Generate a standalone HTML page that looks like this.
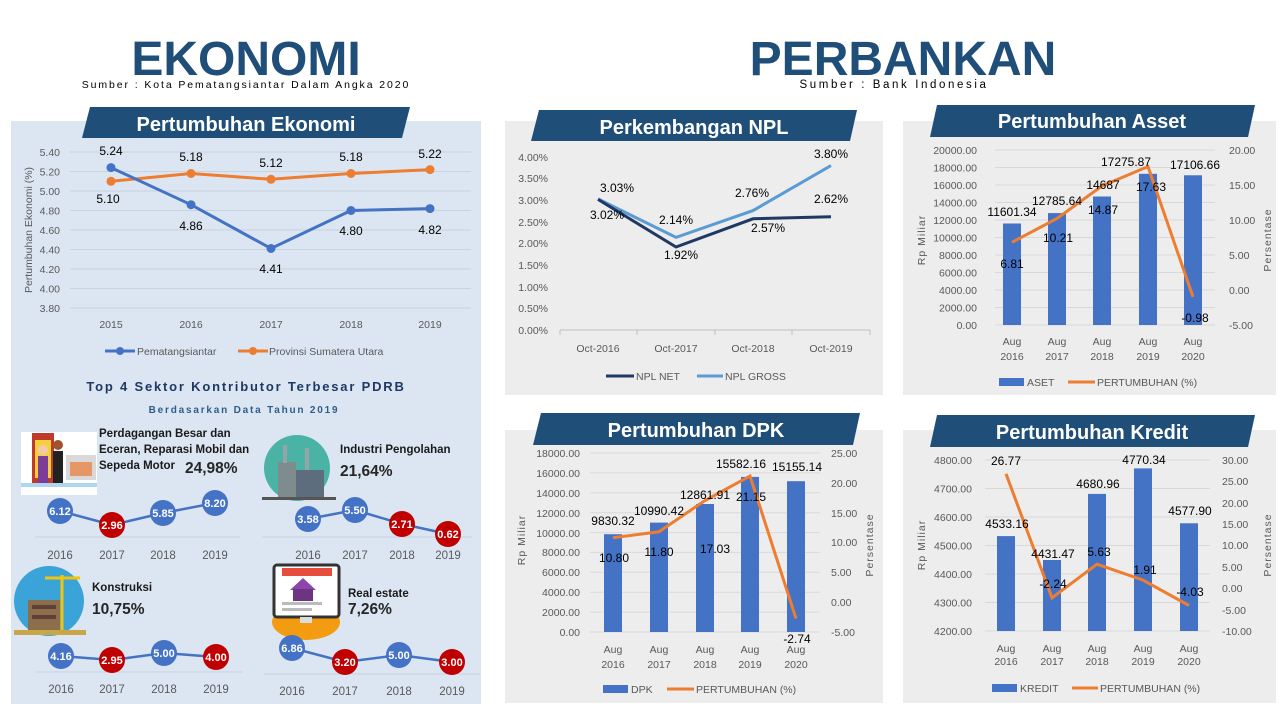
<!DOCTYPE html>
<html><head><meta charset="utf-8"><style>
html,body{margin:0;padding:0;background:#fff;}
svg{display:block;font-family:"Liberation Sans Narrow","Liberation Sans",sans-serif;}
.t{font-size:10.5px;fill:#595959}
.d{font-size:12px;fill:#000}
.h{font-family:"Liberation Sans",sans-serif;font-weight:bold;fill:#fff;font-size:20px}
.c{font-family:"Liberation Sans",sans-serif;font-weight:bold;fill:#fff;font-size:11px}
.y{font-size:11.5px;fill:#595959}
</style></head><body>
<svg width="1280" height="720" viewBox="0 0 1280 720" xmlns="http://www.w3.org/2000/svg">
<!-- Headers -->
<text x="246" y="75" text-anchor="middle" font-family="Liberation Sans" font-weight="bold" font-size="48" fill="#1f4e79">EKONOMI</text>
<text x="246" y="88" text-anchor="middle" font-family="Liberation Sans" font-size="10.5" letter-spacing="1.9" fill="#000">Sumber : Kota Pematangsiantar Dalam Angka 2020</text>
<text x="903" y="75" text-anchor="middle" font-family="Liberation Sans" font-weight="bold" font-size="48" fill="#1f4e79">PERBANKAN</text>
<text x="894" y="88" text-anchor="middle" font-family="Liberation Sans" font-size="11.5" letter-spacing="2.6" fill="#000">Sumber : Bank Indonesia</text>

<!-- Panels -->
<rect x="11" y="121" width="470" height="583" fill="#dce6f2"/>
<rect x="505" y="121" width="378" height="274" fill="#ededed"/>
<rect x="903" y="121" width="373" height="274" fill="#ededed"/>
<rect x="505" y="430" width="378" height="273" fill="#ededed"/>
<rect x="903" y="430" width="373" height="273" fill="#ededed"/>

<!-- Banners -->
<polygon points="90,107 410,107 402,138 82,138" fill="#1f4e79"/>
<text x="246" y="131" text-anchor="middle" class="h">Pertumbuhan Ekonomi</text>
<polygon points="539,110 857,110 850,141 531,141" fill="#1f4e79"/>
<text x="694" y="134" text-anchor="middle" class="h">Perkembangan NPL</text>
<polygon points="937,105 1255,105 1248,137 930,137" fill="#1f4e79"/>
<text x="1092" y="128" text-anchor="middle" class="h">Pertumbuhan Asset</text>
<polygon points="541,413 860,413 853,445 533,445" fill="#1f4e79"/>
<text x="696" y="437" text-anchor="middle" class="h">Pertumbuhan DPK</text>
<polygon points="937,415 1255,415 1248,447 930,447" fill="#1f4e79"/>
<text x="1092" y="439" text-anchor="middle" class="h">Pertumbuhan Kredit</text>

<!-- Ekonomi chart -->
<g stroke="#c9d3de" stroke-width="1">
<line x1="70" y1="152" x2="471" y2="152"/><line x1="70" y1="171.5" x2="471" y2="171.5"/><line x1="70" y1="191" x2="471" y2="191"/><line x1="70" y1="210.5" x2="471" y2="210.5"/><line x1="70" y1="230" x2="471" y2="230"/><line x1="70" y1="249.5" x2="471" y2="249.5"/><line x1="70" y1="269" x2="471" y2="269"/><line x1="70" y1="288.5" x2="471" y2="288.5"/><line x1="70" y1="308" x2="471" y2="308"/>
</g>
<g class="t" text-anchor="end">
<text x="60" y="156">5.40</text><text x="60" y="175.5">5.20</text><text x="60" y="195">5.00</text><text x="60" y="214.5">4.80</text><text x="60" y="234">4.60</text><text x="60" y="253.5">4.40</text><text x="60" y="273">4.20</text><text x="60" y="292.5">4.00</text><text x="60" y="312">3.80</text>
</g>
<text transform="translate(32,230) rotate(-90)" text-anchor="middle" class="t">Pertumbuhan Ekonomi (%)</text>
<g class="t" text-anchor="middle">
<text x="111" y="328">2015</text><text x="191" y="328">2016</text><text x="271" y="328">2017</text><text x="351" y="328">2018</text><text x="430" y="328">2019</text>
</g>
<polyline points="111,181.3 191,173.5 271,179.3 351,173.5 430,169.6" fill="none" stroke="#ed7d31" stroke-width="3"/>
<polyline points="111,167.6 191,204.7 271,248.5 351,210.5 430,208.6" fill="none" stroke="#4472c4" stroke-width="3"/>
<g fill="#ed7d31"><circle cx="111" cy="181.3" r="4.5"/><circle cx="191" cy="173.5" r="4.5"/><circle cx="271" cy="179.3" r="4.5"/><circle cx="351" cy="173.5" r="4.5"/><circle cx="430" cy="169.6" r="4.5"/></g>
<g fill="#4472c4"><circle cx="111" cy="167.6" r="4.5"/><circle cx="191" cy="204.7" r="4.5"/><circle cx="271" cy="248.5" r="4.5"/><circle cx="351" cy="210.5" r="4.5"/><circle cx="430" cy="208.6" r="4.5"/></g>
<g class="d" text-anchor="middle" style="font-size:12px">
<text x="111" y="155">5.24</text><text x="191" y="161">5.18</text><text x="271" y="167">5.12</text><text x="351" y="161">5.18</text><text x="430" y="158">5.22</text>
<text x="108" y="203">5.10</text><text x="191" y="230">4.86</text><text x="271" y="273">4.41</text><text x="351" y="235">4.80</text><text x="430" y="234">4.82</text>
</g>
<line x1="105" y1="351" x2="135" y2="351" stroke="#4472c4" stroke-width="3"/><circle cx="120" cy="351" r="4" fill="#4472c4"/>
<text x="137" y="355" class="t">Pematangsiantar</text>
<line x1="238" y1="351" x2="268" y2="351" stroke="#ed7d31" stroke-width="3"/><circle cx="253" cy="351" r="4" fill="#ed7d31"/>
<text x="269" y="355" class="t">Provinsi Sumatera Utara</text>

<text x="246" y="391" text-anchor="middle" font-family="Liberation Sans" font-weight="bold" font-size="13" letter-spacing="1.8" fill="#1f3864">Top 4 Sektor Kontributor Terbesar PDRB</text>
<text x="244" y="413" text-anchor="middle" font-family="Liberation Sans" font-weight="bold" font-size="10" letter-spacing="1.8" fill="#2e5d8a">Berdasarkan Data Tahun 2019</text>

<!-- Sector icons -->
<g>
<rect x="21" y="432" width="76" height="63" fill="#fff"/>
<rect x="32" y="433" width="22" height="50" fill="#c0392b"/><rect x="35" y="440" width="16" height="38" fill="#f4d03f"/>
<rect x="66" y="455" width="30" height="25" fill="#d9d9d9"/><rect x="70" y="462" width="22" height="14" fill="#e59866"/>
<circle cx="43" cy="450" r="5" fill="#f5cba7"/><rect x="38" y="456" width="10" height="30" fill="#7d3c98"/>
<circle cx="58" cy="445" r="5" fill="#a0522d"/><rect x="53" y="451" width="10" height="35" fill="#222"/>
<rect x="21" y="483" width="76" height="4" fill="#aed6f1"/>
</g>
<g>
<circle cx="297" cy="468" r="33" fill="#4bb3a5"/>
<rect x="278" y="462" width="18" height="35" fill="#7f8c8d"/><rect x="296" y="470" width="28" height="27" fill="#5d6d7e"/>
<rect x="283" y="445" width="4" height="18" fill="#95a5a6"/><rect x="305" y="448" width="4" height="22" fill="#95a5a6"/>
<rect x="262" y="497" width="74" height="3" fill="#555"/>
</g>
<g>
<circle cx="49" cy="601" r="35" fill="#3aa4d8"/>
<rect x="28" y="600" width="32" height="30" fill="#8d6e4a"/><rect x="32" y="605" width="24" height="4" fill="#5d4037"/><rect x="32" y="615" width="24" height="4" fill="#5d4037"/>
<line x1="62" y1="575" x2="62" y2="630" stroke="#f1c40f" stroke-width="3"/><line x1="45" y1="578" x2="80" y2="578" stroke="#f1c40f" stroke-width="3"/>
<rect x="14" y="630" width="72" height="5" fill="#c9a64a"/>
</g>
<g>
<ellipse cx="306" cy="622" rx="34" ry="18" fill="#f39c12"/>
<rect x="274" y="565" width="65" height="52" rx="3" fill="#fff" stroke="#333" stroke-width="3"/>
<rect x="282" y="568" width="50" height="8" fill="#e74c3c"/>
<polygon points="290,590 303,578 316,590" fill="#8e44ad"/><rect x="293" y="589" width="20" height="12" fill="#6c3483"/>
<rect x="282" y="602" width="40" height="3" fill="#bbb"/><rect x="282" y="608" width="30" height="3" fill="#bbb"/>
<rect x="300" y="617" width="12" height="6" fill="#ddd"/>
</g>

<!-- Sector text -->
<g font-family="Liberation Sans" font-weight="bold" fill="#1a1a1a" font-size="11.5">
<text x="99" y="437">Perdagangan Besar dan</text>
<text x="99" y="453">Eceran, Reparasi Mobil dan</text>
<text x="99" y="469">Sepeda Motor</text>
<text x="340" y="453">Industri Pengolahan</text>
<text x="92" y="591">Konstruksi</text>
<text x="348" y="597">Real estate</text>
</g>
<g font-family="Liberation Sans" font-weight="bold" fill="#262626" font-size="15.5">
<text x="185" y="473">24,98%</text>
<text x="340" y="476">21,64%</text>
<text x="92" y="614">10,75%</text>
<text x="348" y="614">7,26%</text>
</g>

<!-- Sector mini charts -->
<g stroke="#c9d3de" stroke-width="1">
<line x1="35" y1="537" x2="240" y2="537"/><line x1="262" y1="537" x2="472" y2="537"/>
<line x1="35" y1="672" x2="242" y2="672"/><line x1="264" y1="674" x2="480" y2="674"/>
</g>
<g fill="none" stroke="#4472c4" stroke-width="2.5">
<polyline points="60,511 112,525 163,513 215,503"/>
<polyline points="308,519 355,510 402,524 448,534"/>
<polyline points="61,656 112,660 164,653 216,657"/>
<polyline points="292,648 345,662 399,655 452,662"/>
</g>
<g>
<circle cx="60" cy="511" r="13" fill="#4472c4"/><circle cx="112" cy="525" r="13" fill="#c00000"/><circle cx="163" cy="513" r="13" fill="#4472c4"/><circle cx="215" cy="503" r="13" fill="#4472c4"/>
<circle cx="308" cy="519" r="13" fill="#4472c4"/><circle cx="355" cy="510" r="13" fill="#4472c4"/><circle cx="402" cy="524" r="13" fill="#c00000"/><circle cx="448" cy="534" r="13" fill="#c00000"/>
<circle cx="61" cy="656" r="13" fill="#4472c4"/><circle cx="112" cy="660" r="13" fill="#c00000"/><circle cx="164" cy="653" r="13" fill="#4472c4"/><circle cx="216" cy="657" r="13" fill="#c00000"/>
<circle cx="292" cy="648" r="13" fill="#4472c4"/><circle cx="345" cy="662" r="13" fill="#c00000"/><circle cx="399" cy="655" r="13" fill="#4472c4"/><circle cx="452" cy="662" r="13" fill="#c00000"/>
</g>
<g class="c" text-anchor="middle">
<text x="60" y="515">6.12</text><text x="112" y="529">2.96</text><text x="163" y="517">5.85</text><text x="215" y="507">8.20</text>
<text x="308" y="523">3.58</text><text x="355" y="514">5.50</text><text x="402" y="528">2.71</text><text x="448" y="538">0.62</text>
<text x="61" y="660">4.16</text><text x="112" y="664">2.95</text><text x="164" y="657">5.00</text><text x="216" y="661">4.00</text>
<text x="292" y="652">6.86</text><text x="345" y="666">3.20</text><text x="399" y="659">5.00</text><text x="452" y="666">3.00</text>
</g>
<g class="y" text-anchor="middle">
<text x="60" y="559">2016</text><text x="112" y="559">2017</text><text x="163" y="559">2018</text><text x="215" y="559">2019</text>
<text x="308" y="559">2016</text><text x="355" y="559">2017</text><text x="402" y="559">2018</text><text x="448" y="559">2019</text>
<text x="61" y="693">2016</text><text x="112" y="693">2017</text><text x="164" y="693">2018</text><text x="216" y="693">2019</text>
<text x="292" y="695">2016</text><text x="345" y="695">2017</text><text x="399" y="695">2018</text><text x="452" y="695">2019</text>
</g>

<!-- NPL chart -->
<line x1="560" y1="330" x2="870" y2="330" stroke="#bfbfbf"/>
<g stroke="#bfbfbf"><line x1="560" y1="330" x2="560" y2="335"/><line x1="637" y1="330" x2="637" y2="335"/><line x1="715" y1="330" x2="715" y2="335"/><line x1="792" y1="330" x2="792" y2="335"/><line x1="870" y1="330" x2="870" y2="335"/></g>
<g class="t" text-anchor="end">
<text x="548" y="161">4.00%</text><text x="548" y="182">3.50%</text><text x="548" y="204">3.00%</text><text x="548" y="226">2.50%</text><text x="548" y="247">2.00%</text><text x="548" y="269">1.50%</text><text x="548" y="291">1.00%</text><text x="548" y="312">0.50%</text><text x="548" y="334">0.00%</text>
</g>
<g class="t" text-anchor="middle">
<text x="598" y="352">Oct-2016</text><text x="676" y="352">Oct-2017</text><text x="753" y="352">Oct-2018</text><text x="831" y="352">Oct-2019</text>
</g>
<polyline points="598,198.9 676,237.4 753,210.6 831,165.6" fill="none" stroke="#5b9bd5" stroke-width="3"/>
<polyline points="598,199.4 676,247 753,218.8 831,216.7" fill="none" stroke="#203864" stroke-width="3"/>
<g class="d" text-anchor="middle">
<text x="617" y="192">3.03%</text><text x="607" y="219">3.02%</text><text x="676" y="224">2.14%</text><text x="681" y="259">1.92%</text>
<text x="752" y="197">2.76%</text><text x="768" y="232">2.57%</text><text x="831" y="158">3.80%</text><text x="831" y="203">2.62%</text>
</g>
<line x1="606" y1="376" x2="634" y2="376" stroke="#203864" stroke-width="3"/><text x="636" y="380" class="t">NPL NET</text>
<line x1="697" y1="376" x2="723" y2="376" stroke="#5b9bd5" stroke-width="3"/><text x="725" y="380" class="t">NPL GROSS</text>

<!-- Asset chart -->
<g stroke="#d9d9d9">
<line x1="995" y1="150" x2="1215" y2="150"/><line x1="995" y1="167.5" x2="1215" y2="167.5"/><line x1="995" y1="185" x2="1215" y2="185"/><line x1="995" y1="202.5" x2="1215" y2="202.5"/><line x1="995" y1="220" x2="1215" y2="220"/><line x1="995" y1="237.5" x2="1215" y2="237.5"/><line x1="995" y1="255" x2="1215" y2="255"/><line x1="995" y1="272.5" x2="1215" y2="272.5"/><line x1="995" y1="290" x2="1215" y2="290"/><line x1="995" y1="307.5" x2="1215" y2="307.5"/><line x1="995" y1="325" x2="1215" y2="325"/>
</g>
<g class="t" text-anchor="end">
<text x="977" y="154">20000.00</text><text x="977" y="171.5">18000.00</text><text x="977" y="189">16000.00</text><text x="977" y="206.5">14000.00</text><text x="977" y="224">12000.00</text><text x="977" y="241.5">10000.00</text><text x="977" y="259">8000.00</text><text x="977" y="276.5">6000.00</text><text x="977" y="294">4000.00</text><text x="977" y="311.5">2000.00</text><text x="977" y="329">0.00</text>
</g>
<g class="t">
<text x="1229" y="154">20.00</text><text x="1229" y="189">15.00</text><text x="1229" y="224">10.00</text><text x="1229" y="259">5.00</text><text x="1229" y="294">0.00</text><text x="1229" y="329">-5.00</text>
</g>
<text transform="translate(925,240) rotate(-90)" text-anchor="middle" class="t" letter-spacing="1">Rp Miliar</text>
<text transform="translate(1271,240) rotate(-90)" text-anchor="middle" class="t" letter-spacing="1">Persentase</text>
<g fill="#4472c4">
<rect x="1003" y="223.5" width="18" height="101.5"/><rect x="1048" y="213.1" width="18" height="111.9"/><rect x="1093" y="196.5" width="18" height="128.5"/><rect x="1139" y="173.8" width="18" height="151.2"/><rect x="1184" y="175.3" width="18" height="149.7"/>
</g>
<polyline points="1012,242.3 1057,218.5 1102,185.9 1148,166.6 1193,296.9" fill="none" stroke="#ed7d31" stroke-width="3"/>
<g class="d" text-anchor="middle">
<text x="1012" y="216">11601.34</text><text x="1057" y="205">12785.64</text><text x="1103" y="189">14687</text><text x="1126" y="166">17275.87</text><text x="1195" y="169">17106.66</text>
<text x="1012" y="268">6.81</text><text x="1058" y="242">10.21</text><text x="1103" y="214">14.87</text><text x="1151" y="191">17.63</text><text x="1195" y="322">-0.98</text>
</g>
<g class="t" text-anchor="middle">
<text x="1012" y="345">Aug</text><text x="1057" y="345">Aug</text><text x="1102" y="345">Aug</text><text x="1148" y="345">Aug</text><text x="1193" y="345">Aug</text>
<text x="1012" y="360">2016</text><text x="1057" y="360">2017</text><text x="1102" y="360">2018</text><text x="1148" y="360">2019</text><text x="1193" y="360">2020</text>
</g>
<rect x="999" y="378" width="25" height="8" fill="#4472c4"/><text x="1027" y="386" class="t">ASET</text>
<line x1="1068" y1="382" x2="1095" y2="382" stroke="#ed7d31" stroke-width="3"/><text x="1097" y="386" class="t">PERTUMBUHAN (%)</text>

<!-- DPK chart -->
<g stroke="#d9d9d9">
<line x1="590" y1="453" x2="820" y2="453"/><line x1="590" y1="472.9" x2="820" y2="472.9"/><line x1="590" y1="492.8" x2="820" y2="492.8"/><line x1="590" y1="512.7" x2="820" y2="512.7"/><line x1="590" y1="532.6" x2="820" y2="532.6"/><line x1="590" y1="552.4" x2="820" y2="552.4"/><line x1="590" y1="572.3" x2="820" y2="572.3"/><line x1="590" y1="592.2" x2="820" y2="592.2"/><line x1="590" y1="612.1" x2="820" y2="612.1"/><line x1="590" y1="632" x2="820" y2="632"/>
</g>
<g class="t" text-anchor="end">
<text x="580" y="457">18000.00</text><text x="580" y="477">16000.00</text><text x="580" y="497">14000.00</text><text x="580" y="517">12000.00</text><text x="580" y="537">10000.00</text><text x="580" y="556">8000.00</text><text x="580" y="576">6000.00</text><text x="580" y="596">4000.00</text><text x="580" y="616">2000.00</text><text x="580" y="636">0.00</text>
</g>
<g class="t">
<text x="831" y="457">25.00</text><text x="831" y="487">20.00</text><text x="831" y="517">15.00</text><text x="831" y="546">10.00</text><text x="831" y="576">5.00</text><text x="831" y="606">0.00</text><text x="831" y="636">-5.00</text>
</g>
<text transform="translate(525,540) rotate(-90)" text-anchor="middle" class="t" letter-spacing="1">Rp Miliar</text>
<text transform="translate(873,545) rotate(-90)" text-anchor="middle" class="t" letter-spacing="1">Persentase</text>
<g fill="#4472c4">
<rect x="604" y="534.2" width="18" height="97.8"/><rect x="650" y="522.6" width="18" height="109.4"/><rect x="696" y="504" width="18" height="128"/><rect x="741" y="476.9" width="18" height="155.1"/><rect x="787" y="481.2" width="18" height="150.8"/>
</g>
<polyline points="613,537.7 659,531.8 705,500.5 750,476 796,618.5" fill="none" stroke="#ed7d31" stroke-width="3"/>
<g class="d" text-anchor="middle">
<text x="613" y="525">9830.32</text><text x="659" y="515">10990.42</text><text x="705" y="499">12861.91</text><text x="741" y="468">15582.16</text><text x="797" y="471">15155.14</text>
<text x="614" y="562">10.80</text><text x="659" y="556">11.80</text><text x="715" y="553">17.03</text><text x="751" y="501">21.15</text><text x="797" y="643">-2.74</text>
</g>
<g class="t" text-anchor="middle">
<text x="613" y="653">Aug</text><text x="659" y="653">Aug</text><text x="705" y="653">Aug</text><text x="750" y="653">Aug</text><text x="796" y="653">Aug</text>
<text x="613" y="668">2016</text><text x="659" y="668">2017</text><text x="705" y="668">2018</text><text x="750" y="668">2019</text><text x="796" y="668">2020</text>
</g>
<rect x="603" y="685" width="25" height="8" fill="#4472c4"/><text x="631" y="693" class="t">DPK</text>
<line x1="667" y1="689" x2="694" y2="689" stroke="#ed7d31" stroke-width="3"/><text x="696" y="693" class="t">PERTUMBUHAN (%)</text>

<!-- Kredit chart -->
<g stroke="#d9d9d9">
<line x1="985" y1="460" x2="1210" y2="460"/><line x1="985" y1="488.5" x2="1210" y2="488.5"/><line x1="985" y1="517" x2="1210" y2="517"/><line x1="985" y1="545.5" x2="1210" y2="545.5"/><line x1="985" y1="574" x2="1210" y2="574"/><line x1="985" y1="602.5" x2="1210" y2="602.5"/><line x1="985" y1="631" x2="1210" y2="631"/>
</g>
<g class="t" text-anchor="end">
<text x="972" y="464">4800.00</text><text x="972" y="492.5">4700.00</text><text x="972" y="521">4600.00</text><text x="972" y="549.5">4500.00</text><text x="972" y="578">4400.00</text><text x="972" y="606.5">4300.00</text><text x="972" y="635">4200.00</text>
</g>
<g class="t">
<text x="1222" y="464">30.00</text><text x="1222" y="485">25.00</text><text x="1222" y="507">20.00</text><text x="1222" y="528">15.00</text><text x="1222" y="549">10.00</text><text x="1222" y="571">5.00</text><text x="1222" y="592">0.00</text><text x="1222" y="614">-5.00</text><text x="1222" y="635">-10.00</text>
</g>
<text transform="translate(925,545) rotate(-90)" text-anchor="middle" class="t" letter-spacing="1">Rp Miliar</text>
<text transform="translate(1271,545) rotate(-90)" text-anchor="middle" class="t" letter-spacing="1">Persentase</text>
<g fill="#4472c4">
<rect x="997" y="536.1" width="18" height="94.9"/><rect x="1043" y="560" width="18" height="71"/><rect x="1088" y="493.9" width="18" height="137.1"/><rect x="1134" y="468.4" width="18" height="162.6"/><rect x="1180" y="523.3" width="18" height="107.7"/>
</g>
<polyline points="1006,473.8 1052,597.8 1097,564.2 1143,580.1 1189,605.5" fill="none" stroke="#ed7d31" stroke-width="3"/>
<g class="d" text-anchor="middle">
<text x="1007" y="528">4533.16</text><text x="1053" y="558">4431.47</text><text x="1098" y="488">4680.96</text><text x="1144" y="464">4770.34</text><text x="1190" y="515">4577.90</text>
<text x="1006" y="465">26.77</text><text x="1053" y="588">-2.24</text><text x="1099" y="556">5.63</text><text x="1145" y="574">1.91</text><text x="1190" y="596">-4.03</text>
</g>
<g class="t" text-anchor="middle">
<text x="1006" y="652">Aug</text><text x="1052" y="652">Aug</text><text x="1097" y="652">Aug</text><text x="1143" y="652">Aug</text><text x="1189" y="652">Aug</text>
<text x="1006" y="665">2016</text><text x="1052" y="665">2017</text><text x="1097" y="665">2018</text><text x="1143" y="665">2019</text><text x="1189" y="665">2020</text>
</g>
<rect x="992" y="684" width="25" height="8" fill="#4472c4"/><text x="1020" y="692" class="t">KREDIT</text>
<line x1="1072" y1="688" x2="1098" y2="688" stroke="#ed7d31" stroke-width="3"/><text x="1100" y="692" class="t">PERTUMBUHAN (%)</text>
</svg>
</body></html>
